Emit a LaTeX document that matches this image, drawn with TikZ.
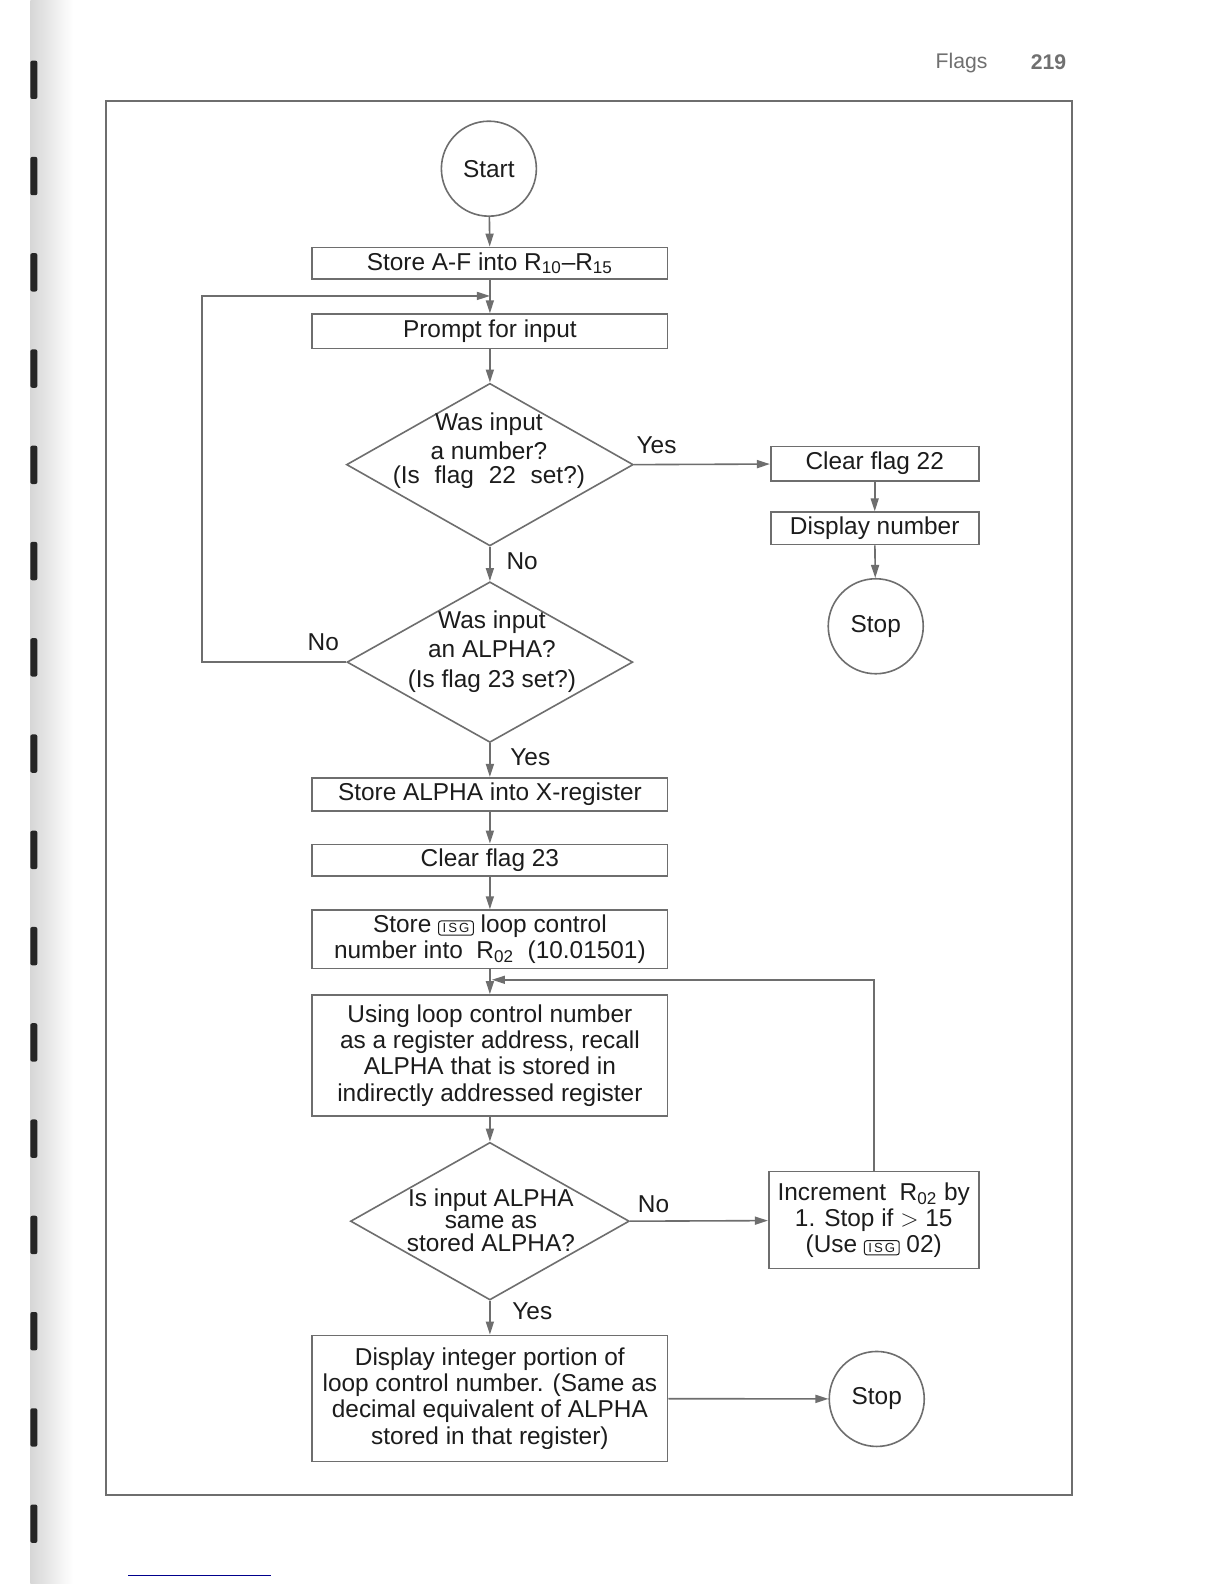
\documentclass[tikz,border=0pt]{standalone}
\usepackage{fontspec}
\setmainfont{Liberation Sans}
\usetikzlibrary{shapes.geometric,arrows.meta}
\definecolor{linegray}{HTML}{6E6E6E}
\definecolor{ink}{HTML}{1C1C1C}
\definecolor{headgray}{HTML}{707070}
\tikzset{
  box/.style={draw=linegray, line width=0.8pt, rectangle, minimum width=177.8pt, inner sep=0pt, align=center},
  decision/.style={draw=linegray, line width=0.8pt, diamond, inner sep=0pt},
  term/.style={draw=linegray, line width=0.8pt, circle, minimum size=47.5pt, inner sep=0pt},
  arr/.style={draw=linegray, line width=0.8pt, -{Triangle[length=6.5pt,width=4pt]}},
  lbl/.style={inner sep=0pt, align=center},
  key/.style={draw=ink, line width=0.5pt, rectangle, rounded corners=1.2pt, minimum width=0pt, minimum height=0pt, inner xsep=2pt, inner ysep=1.2pt, font=\fontsize{6.6}{7}\selectfont}
}
\newcommand{\isgkey}{\tikz[baseline=(k.base)]\node[key] (k) {I\kern1pt S\kern1pt G};}
\begin{document}
\begin{tikzpicture}[x=0.50505pt, y=-0.50505pt, font=\fontsize{12.2}{14.6}\selectfont, text=ink]
    \useasboundingbox (0,0) rectangle (1211.8,1568.2);
    \fill[white] (0,0) rectangle (1211.8,1568.2);

    % binding edge of the scan
    \shade[left color=black!16, right color=white] (30,0) rectangle (72,1568.2);
    \foreach \i in {0,...,15}
      \fill[black!85, rounded corners=1pt] (30,60+95.3*\i) rectangle (37,98+95.3*\i);

    % page head and frame
    \node[lbl, text=headgray, font=\fontsize{10.6}{12}\selectfont] (head) at (952,62) {Flags};
    \node[lbl, text=headgray, font=\fontsize{10.6}{12}\selectfont\bfseries] (page) at (1038,62) {219};
    \draw[linegray, line width=0.8pt] (105,100) rectangle (1061,1480);
    \draw[blue!55!black, line width=0.6pt] (127,1560) -- (268,1560);

    % main column
    \node[term] (start) at (484,167) {Start};
    \node[box, minimum height=15.7pt] (b1) at (485,260.5) {Store A-F into R\textsubscript{10}--R\textsubscript{15}};
    \node[box, minimum height=17.2pt] (b2) at (485,328) {Prompt for input};

    \node[decision, minimum width=143.4pt, minimum height=81.3pt] (q1) at (485,460) {};
    \node[lbl] (q1t) at (484,446) {Was input\\a number?\\[-3pt](Is\hspace{4pt} flag\hspace{4pt} 22\hspace{4pt} set?)};

    \node[decision, minimum width=142.9pt, minimum height=80.3pt] (q2) at (485,655.5) {};
    \node[lbl] (q2t) at (487,645) {Was input\\an ALPHA?\\(Is flag 23 set?)};

    \node[box, minimum height=16.7pt] (b3) at (485,786.5) {Store ALPHA into X-register};
    \node[box, minimum height=15.7pt] (b4) at (485,851.5) {Clear flag 23};
    \node[box, minimum height=29.3pt, font=\fontsize{12.2}{13.1}\selectfont] (b5) at (485,930) {Store \isgkey{} loop control\\number into \ R\textsubscript{02} \ (10.01501)};
    \node[box, minimum height=60.6pt, font=\fontsize{12.2}{13.1}\selectfont] (b6) at (485,1045) {Using loop control number\\as a register address, recall\\ALPHA that is stored in\\indirectly addressed register};

    \node[decision, minimum width=139.4pt, minimum height=78.8pt] (q3) at (485,1209) {};
    \node[lbl, font=\fontsize{12.2}{11.2}\selectfont] (q3t) at (486,1208) {Is input ALPHA\\same as\\stored ALPHA?};

    \node[box, minimum height=63.1pt, font=\fontsize{12.2}{13.1}\selectfont] (b7) at (485,1384.5) {Display integer portion of\\loop control number. (Same as\\decimal equivalent of ALPHA\\stored in that register)};

    % right column
    \node[box, minimum width=104pt, minimum height=17.2pt] (c22) at (866,459) {Clear flag 22};
    \node[box, minimum width=104pt, minimum height=16.2pt] (disp) at (866,523) {Display number};
    \node[term] (stop1) at (867,620) {Stop};
    \node[box, minimum width=105pt, minimum height=48.5pt, font=\fontsize{12.2}{12.9}\selectfont] (inc) at (865,1208) {Increment \ R\textsubscript{02} by\\1. Stop if $>$ 15\\(Use \isgkey{} 02)};
    \node[term] (stop2) at (868,1385) {Stop};

    % branch labels
    \node[lbl] (yes1) at (650,441) {Yes};
    \node[lbl] (no1) at (517,556) {No};
    \node[lbl] (no2) at (320,636) {No};
    \node[lbl] (yes2) at (525,750) {Yes};
    \node[lbl] (no3) at (647,1192) {No};
    \node[lbl] (yes3) at (527,1298) {Yes};

    % junctions of the loops
    \coordinate (j1) at (485,293);
    \coordinate (j2) at (487,970);

    \draw[arr] (start) -- (b1);
    \draw[arr] (b1) -- (b2);
    \draw[arr] (b2) -- (q1.north);
    \draw[arr] (q1.east) -- (c22);
    \draw[arr] (c22) -- (disp);
    \draw[arr] (disp) -- (stop1);
    \draw[arr] (q1.south) -- (q2.north);
    \draw[arr] (q2.west) -- ++(-143,0) |- (j1);
    \draw[arr] (q2.south) -- (b3);
    \draw[arr] (b3) -- (b4);
    \draw[arr] (b4) -- (b5);
    \draw[arr] (b5) -- (b6);
    \draw[arr] (b6) -- (q3.north);
    \draw[arr] (q3.east) -- (inc);
    \draw[arr] (inc.north) |- (j2);
    \draw[arr] (q3.south) -- (b7);
    \draw[arr] (b7) -- (stop2);
  \end{tikzpicture}
\end{document}
